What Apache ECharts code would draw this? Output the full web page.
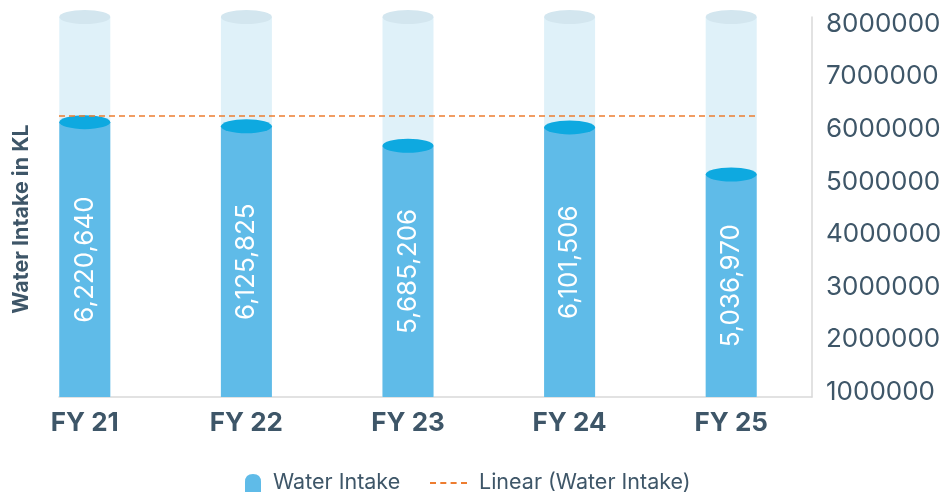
<!DOCTYPE html>
<html>
<head>
<meta charset="utf-8">
<script src="https://cdn.jsdelivr.net/npm/echarts@6/dist/echarts.min.js"></script>
<style>
  html, body { margin: 0; padding: 0; background: #fff; }
  #chart { width: 948px; height: 495px; }
</style>
</head>
<body>
<div id="chart"></div>
<script>
// data
var categories = ['FY 21', 'FY 22', 'FY 23', 'FY 24', 'FY 25'];
var intake = [6220640, 6125825, 5685206, 6101506, 5036970];
var trend = [6250000, 6250000, 6250000, 6250000, 6250000];
var rightMin = 1000000, rightMax = 8000000, rightStep = 1000000;
var barAxisMax = 8600000; // hidden scale the columns are drawn on

var textColor = '#3e5668';
var lineColor = '#d9d9d9';
var font = 'Inter';

var chart = echarts.init(document.getElementById('chart'));

var capTop = categories.map(function () { return barAxisMax; });
var legendText = { color: textColor, fontSize: 21.5, fontFamily: font, padding: [0, 0, 0, 7] };

chart.setOption({
    animation: false,
    textStyle: { fontFamily: font },
    grid: [
        { left: 4, right: 136, top: 17, bottom: 98 },
        { left: 59, right: 136, top: 24, bottom: 103 },
        { left: 59, right: 193, top: 24, bottom: 103 }
    ],
    xAxis: [
        {
            type: 'category', data: categories, gridIndex: 0,
            axisLine: { show: false }, axisTick: { show: false },
            axisLabel: { color: textColor, fontSize: 26, fontWeight: 'bold', margin: 13, fontFamily: font }
        },
        {
            type: 'category', data: categories, gridIndex: 1, offset: 5,
            axisLine: { show: true, lineStyle: { color: lineColor, width: 1.5 } },
            axisTick: { show: false }, axisLabel: { show: false }
        },
        {
            type: 'category', data: categories, gridIndex: 2, boundaryGap: false, show: false
        }
    ],
    yAxis: [
        { type: 'value', gridIndex: 0, min: 0, max: barAxisMax, show: false },
        {
            type: 'value', gridIndex: 0, position: 'right', min: 0, max: barAxisMax,
            axisLine: { show: true, lineStyle: { color: lineColor, width: 1.5 } },
            axisTick: { show: false }, axisLabel: { show: false }, splitLine: { show: false }
        },
        {
            type: 'value', gridIndex: 1, position: 'right',
            min: rightMin, max: rightMax, interval: rightStep,
            axisLine: { show: false }, axisTick: { show: false }, splitLine: { show: false },
            axisLabel: {
                color: textColor, fontSize: 26, margin: 14, fontFamily: font,
                formatter: function (v) { return String(v); }
            }
        },
        { type: 'value', gridIndex: 2, min: rightMin, max: rightMax, show: false }
    ],
    legend: [
        {
            top: 472, left: 245, padding: 0,
            itemWidth: 16, itemHeight: 18,
            textStyle: legendText,
            data: [{ name: 'Water Intake', icon: 'path://M0,8 Q0,0 8,0 Q16,0 16,8 L16,18 L0,18 Z', itemStyle: { color: '#5fbbe8' } }]
        },
        {
            top: 472, left: 430, padding: 0,
            itemWidth: 37, itemHeight: 2,
            textStyle: legendText,
            data: [{
                name: 'Linear (Water Intake)',
                icon: 'path://M0,0 h6 v2 h-6 Z M10.3,0 h6 v2 h-6 Z M20.6,0 h6 v2 h-6 Z M31,0 h6 v2 h-6 Z',
                itemStyle: { color: '#ed7d31' }
            }]
        }
    ],
    graphic: [{
        type: 'text',
        x: 22, y: 219,
        rotation: Math.PI / 2,
        style: {
            text: 'Water Intake in KL',
            fill: textColor,
            font: 'bold 21.5px Inter',
            align: 'center',
            verticalAlign: 'middle'
        }
    }],
    series: [
        {
            name: 'Water Intake',
            type: 'bar',
            xAxisIndex: 0, yAxisIndex: 0,
            data: intake,
            barWidth: 51,
            showBackground: true,
            backgroundStyle: { color: '#dff1f9' },
            itemStyle: { color: '#5fbbe8' },
            label: {
                show: true,
                position: 'inside',
                rotate: 90,
                color: '#fff',
                fontSize: 26,
                fontFamily: font,
                formatter: function (p) { return p.value.toLocaleString('en-US'); }
            },
            z: 2
        },
        {
            name: 'bgcap',
            type: 'pictorialBar',
            xAxisIndex: 0, yAxisIndex: 0,
            data: capTop,
            symbol: 'circle',
            symbolSize: [51, 14],
            symbolPosition: 'end',
            symbolOffset: [0, '-50%'],
            itemStyle: { color: '#d3e6ef' },
            silent: true,
            z: 3
        },
        {
            name: 'Water Intake',
            type: 'pictorialBar',
            xAxisIndex: 0, yAxisIndex: 0,
            data: intake,
            symbol: 'circle',
            symbolSize: [51, 14],
            symbolPosition: 'end',
            symbolOffset: [0, '-50%'],
            itemStyle: { color: '#0ea9e0' },
            z: 4
        },
        {
            name: 'Linear (Water Intake)',
            type: 'line',
            xAxisIndex: 2, yAxisIndex: 3,
            data: trend,
            symbol: 'none',
            lineStyle: { color: '#ed7d31', width: 1.5, type: [6, 4] },
            itemStyle: { color: '#ed7d31' },
            z: 10
        }
    ]
});
</script>
</body>
</html>
